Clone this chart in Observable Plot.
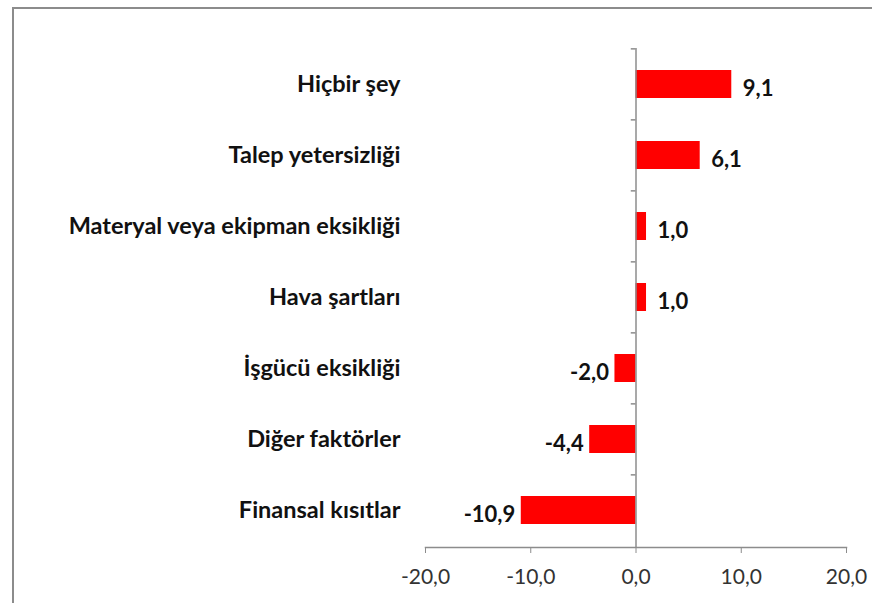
<!DOCTYPE html>
<html>
<head>
<meta charset="utf-8">
<script src="https://cdn.jsdelivr.net/npm/d3@7"></script>
<script src="https://cdn.jsdelivr.net/npm/@observablehq/plot@0.6"></script>
<style>
  html, body { margin: 0; padding: 0; background: #fff; }
  #wrap { position: relative; width: 872px; height: 603px; overflow: hidden; }
  #border { position: absolute; left: 12px; top: 7px; width: 900px; height: 700px;
            border: 2px solid #8c8c8c; box-sizing: border-box; pointer-events: none; }
  svg { font-family: Lato, "Open Sans", sans-serif; }
</style>
</head>
<body>
<div id="wrap"><div id="border"></div><div id="chart"></div></div>
<script>
// Categories, top to bottom, and their values
const categories = [
  "Hiçbir şey",
  "Talep yetersizliği",
  "Materyal veya ekipman eksikliği",
  "Hava şartları",
  "İşgücü eksikliği",
  "Diğer faktörler",
  "Finansal kısıtlar"
];
const values = [9.1, 6.1, 1.0, 1.0, -2.0, -4.4, -10.9];
const xTicks = [-20, -10, 0, 10, 20];

const rows = categories.map((c, i) => ({category: c, value: values[i]}));
const positives = rows.filter(d => d.value >= 0);
const negatives = rows.filter(d => d.value < 0);

// Turkish number style: comma decimal separator, plain hyphen minus
const tr = d3.formatLocale({decimal: ",", thousands: ".", grouping: [3], currency: ["", ""], minus: "-"});
const fmt = tr.format(".1f");

const width = 872, height = 603;
const marginTop = 48, marginBottom = 56, marginLeft = 425, marginRight = 26;
const step = (height - marginTop - marginBottom) / categories.length;

const labelStyle = {fontSize: 22, fontWeight: "bold", fill: "#111", dy: 4};

const chart = Plot.plot({
  width, height, marginTop, marginBottom, marginLeft, marginRight,
  style: {fontFamily: "Lato, 'Open Sans', sans-serif", background: "white"},
  x: {domain: [-20, 20], ticks: xTicks, tickFormat: fmt},
  y: {domain: categories, paddingInner: 0.6, paddingOuter: 0.3},
  marks: [
    Plot.barX(rows, {x: "value", y: "category", fill: "#ff0000"}),
    // vertical axis line at zero with small ticks at band boundaries
    Plot.ruleX([0], {stroke: "#8c8c8c", strokeWidth: 1.5}),
    Plot.ruleY(categories, {y: d => d, x1: -0.45, x2: 0, dy: -step / 2, stroke: "#8c8c8c", strokeWidth: 1.5}),
    // horizontal axis
    Plot.frame({anchor: "bottom", stroke: "#8c8c8c", strokeWidth: 1.5}),
    Plot.axisX({ticks: xTicks, tickFormat: fmt, tickSize: 6, tickPadding: 16,
                stroke: "#8c8c8c", fill: "#333", fontSize: 21, label: null}),
    // category labels, right-aligned left of the plot area
    Plot.axisY({tickSize: 0, tickPadding: 25, fontSize: 23.5, fontWeight: "bold",
                fill: "#111", label: null}),
    // value labels: outside the bar end
    Plot.text(positives, {x: "value", y: "category", text: d => fmt(d.value),
      textAnchor: "start", dx: 11, ...labelStyle}),
    Plot.text(negatives, {x: "value", y: "category", text: d => fmt(d.value),
      textAnchor: "end", dx: -6, ...labelStyle})
  ]
});
document.getElementById("chart").appendChild(chart);
</script>
</body>
</html>
